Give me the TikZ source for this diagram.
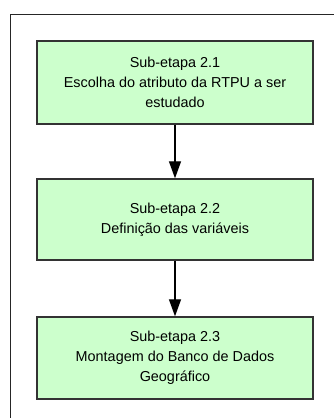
\documentclass[tikz,border=0pt]{standalone}
\usepackage{fontspec}
\setmainfont{Liberation Sans}
\usetikzlibrary{arrows.meta}
\definecolor{boxfill}{HTML}{CCFFCC}
\definecolor{boxline}{HTML}{333333}
\tikzset{
  stepbox/.style={draw=boxline, line width=1.4pt, fill=boxfill, minimum width=276pt, minimum height=83pt, align=center, font=\fontsize{14.4pt}{20pt}\selectfont, inner sep=0pt},
  flow/.style={line width=1.2pt, -{Triangle[length=17pt,width=12pt]}}
}
\begin{document}
\begin{tikzpicture}[x=1pt,y=1pt]
\useasboundingbox (0,0) rectangle (333,-418);
\draw[line width=1.3pt, draw=black!85] (10.5,-430) -- (10.5,-14.5) -- (345,-14.5);
\node[stepbox] (s1) at (175,-82.5) {Sub-etapa 2.1\\Escolha do atributo da RTPU a ser\\estudado};
\node[stepbox, minimum height=81pt] (s2) at (175,-219.5) {Sub-etapa 2.2\\Definição das variáveis};
\node[stepbox, minimum height=82pt] (s3) at (175,-358) {Sub-etapa 2.3\\Montagem do Banco de Dados\\Geográfico};
\draw[flow] (s1) -- (s2);
\draw[flow] (s2) -- (s3);
\end{tikzpicture}
\end{document}
